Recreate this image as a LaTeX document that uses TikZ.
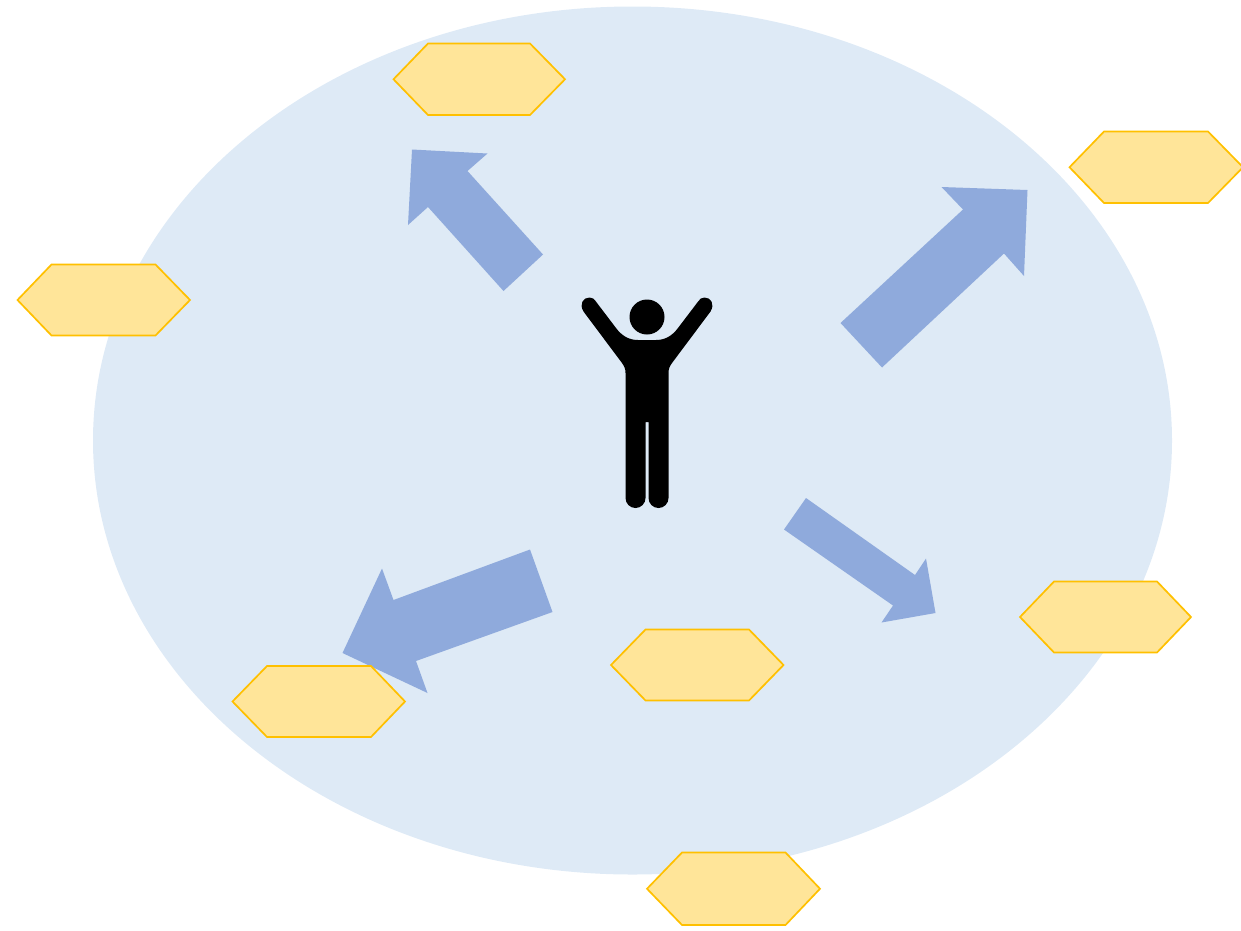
\documentclass[tikz,border=0pt]{standalone}
\definecolor{disc}{HTML}{DEEAF6}
\definecolor{arrowblue}{HTML}{8FAADC}
\definecolor{hexfill}{HTML}{FFE599}
\definecolor{hexline}{HTML}{FFC000}
\tikzset{
  hexa/.style={fill=hexfill,draw=hexline,line width=1.7pt,line join=miter},
  bigarrow/.style={fill=arrowblue,draw=none},
  person/.style={fill=black,draw=none}
}
\newcommand{\hexshape}[6]{% left, inset-left, inset-right, right, top, bottom
  \path[hexa] (#1,{(#5+#6)/2}) -- (#2,#5) -- (#3,#5) -- (#4,{(#5+#6)/2}) -- (#3,#6) -- (#2,#6) -- cycle;}
\begin{document}
\begin{tikzpicture}[x=1pt,y=-1pt]
\useasboundingbox (0,0) rectangle (1241,930);
\begin{scope}
\clip (0,0) rectangle (1241,930);
\fill[disc] (632.5,440.5) ellipse [x radius=539.5,y radius=434];
\path[bigarrow] (543,254.5) -- (503.5,291) -- (428,207) -- (408,225) -- (412,149.5) -- (487.5,153.5) -- (467.5,171) -- cycle;
\path[bigarrow] (840.5,323) -- (882,367.5) -- (1004,253.5) -- (1024,276) -- (1027.5,190) -- (941.5,187) -- (963,209.5) -- cycle;
\path[bigarrow] (784,529.5) -- (806,498) -- (915,575) -- (926,558.5) -- (935.5,613) -- (881.5,622.5) -- (893,605.5) -- cycle;
\path[bigarrow] (530,549.5) -- (552.5,612) -- (416,661) -- (427.5,693) -- (342.5,653) -- (382,568.5) -- (393.5,600) -- cycle;
\hexshape{393.5}{428}{530}{565}{43.5}{115}
\hexshape{1069.5}{1104}{1208}{1243}{131.5}{203}
\hexshape{17.5}{51.5}{155.5}{190}{264.5}{335.5}
\hexshape{232.5}{267}{371}{405}{666}{737}
\hexshape{611}{645.5}{749}{783.5}{629.5}{700.5}
\hexshape{1020}{1054}{1157}{1191}{581.5}{652.5}
\hexshape{647}{682}{785.5}{820}{852.5}{925}
\end{scope}
\fill[person] (647,317) circle [radius=17.5];
\path[person] (583.5,311.5)
  -- (622,363) .. controls (624.5,366.5) and (625.5,369) .. (625.5,373)
  -- (625.5,498) arc [start angle=180,end angle=0,radius=10]
  -- (645.5,422) -- (648.5,422) -- (648.5,498)
  arc [start angle=180,end angle=0,radius=10]
  -- (668.5,373) .. controls (668.5,369) and (669.5,366.5) .. (672,363)
  -- (710.5,311.5) .. controls (715,304) and (711,297.5) .. (704.5,297.5)
  .. controls (701.5,297.5) and (700,299) .. (698.5,301)
  -- (678,328) .. controls (672,336) and (665,340) .. (656,340)
  -- (638,340) .. controls (629,340) and (622,336) .. (616,328)
  -- (595.5,301) .. controls (594,299) and (592.5,297.5) .. (589.5,297.5)
  .. controls (583,297.5) and (579,304) .. (583.5,311.5) -- cycle;
\end{tikzpicture}
\end{document}
